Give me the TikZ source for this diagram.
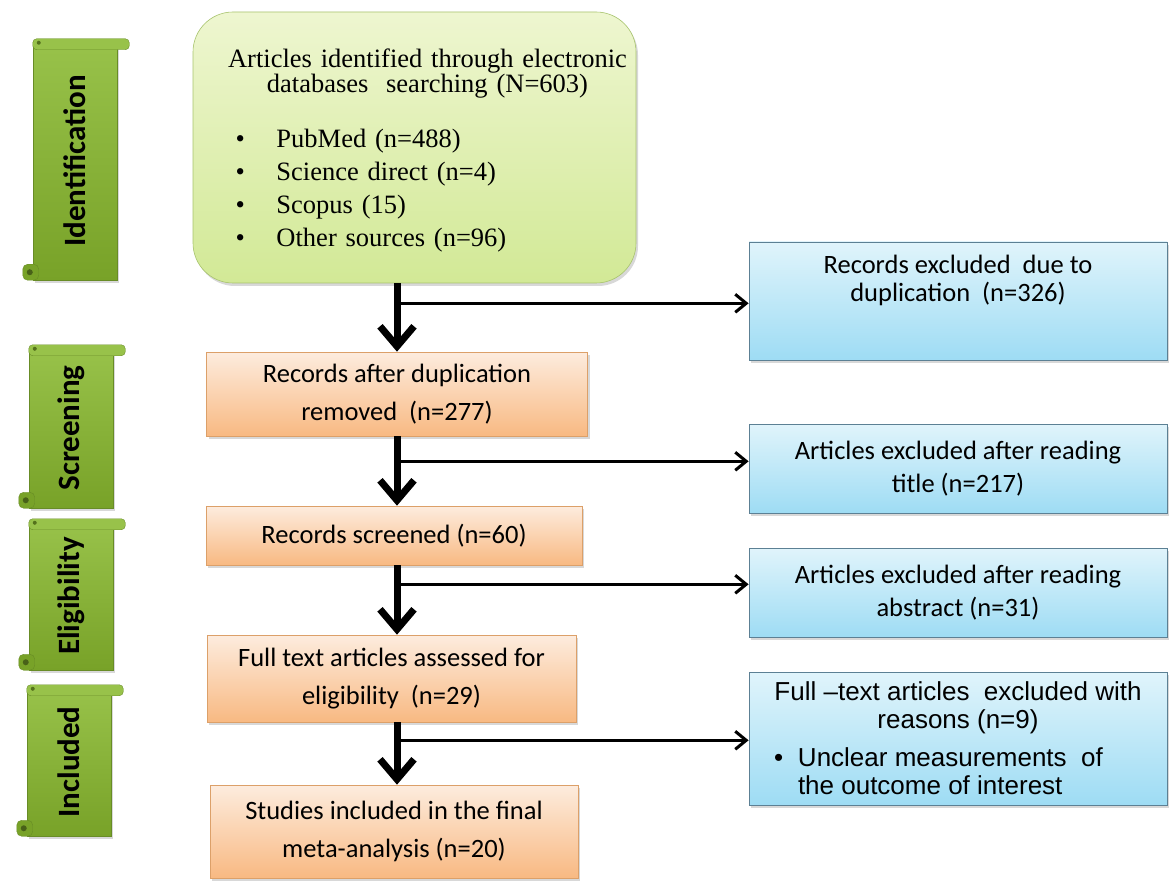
\documentclass[tikz,border=0pt]{standalone}
\usepackage{fontspec}
\setmainfont{Liberation Serif}
\newfontfamily\calibri{Carlito}
\newfontfamily\arialfont{Liberation Sans}
\usepackage{graphicx}
\usepackage{tikz}
\usetikzlibrary{shadows,arrows.meta,positioning,calc}
\definecolor{bantop}{RGB}{152,194,74}
\definecolor{banbot}{RGB}{120,162,40}
\definecolor{banedge}{RGB}{104,140,38}
\definecolor{srctop}{RGB}{238,246,208}
\definecolor{srcbot}{RGB}{210,233,150}
\definecolor{srcedge}{RGB}{168,196,110}
\definecolor{ortop}{RGB}{253,236,222}
\definecolor{orbot}{RGB}{248,185,130}
\definecolor{oredge}{RGB}{220,160,105}
\definecolor{bltop}{RGB}{224,244,251}
\definecolor{blbot}{RGB}{158,220,244}
\definecolor{bledge}{RGB}{92,128,148}
\tikzstyle{softshadow}=[drop shadow={shadow xshift=2pt, shadow yshift=-3pt, opacity=0.3}]
\tikzstyle{phase}=[draw=banedge, line width=0.5pt, top color=bantop, bottom color=banbot,
minimum width=84pt, inner sep=0pt, softshadow,
font=\calibri\bfseries\fontsize{31}{31}\selectfont]
\tikzstyle{sources}=[draw=srcedge, line width=0.6pt, top color=srctop, bottom color=srcbot,
rounded corners=40pt, minimum width=443pt, minimum height=271pt, text width=430pt,
inner xsep=6.5pt, softshadow, font=\fontsize{26.5}{33}\selectfont]
\tikzstyle{etape}=[draw=oredge, line width=0.6pt, top color=ortop, bottom color=orbot,
align=center, inner sep=0pt, softshadow, font=\calibri\fontsize{26.5}{38}\selectfont]
\tikzstyle{excl}=[draw=bledge, line width=0.8pt, top color=bltop, bottom color=blbot,
minimum width=418pt, align=center, inner sep=0pt, softshadow,
font=\calibri\fontsize{26.5}{33}\selectfont]
\tikzstyle{mainline}=[draw, line width=7pt, -{Straight Barb[length=20pt,width=34pt]}]
\tikzstyle{line}=[draw, line width=3pt, -{Straight Barb[length=11pt,width=18pt]}]
\newcommand{\stage}[3]{node (s#1)[phase, minimum height=#2]{\rotatebox{90}{#3}}}
\newcommand{\etape}[4]{node (p#1)[etape, minimum width=#2, minimum height=#3]{#4}}
\newcommand{\excl}[3]{node (q#1)[excl, minimum height=#2]{#3}}
\newcommand{\src}[1]{\noindent\hspace*{36pt}\makebox[41pt][l]{\textbullet}#1\par}
\newcommand{\rolls}[1]{%
  \filldraw[draw=banedge, fill=bantop, rounded corners=4pt] ($(s#1.north west)+(0,3)$) rectangle ($(s#1.north east)+(12,-8)$);
  \fill[banbot!70!black] ($(s#1.north west)+(6,-1)$) circle (2pt);
  \filldraw[draw=banedge, fill=banbot, rounded corners=5pt] ($(s#1.south west)+(-10,16)$) rectangle ($(s#1.south west)+(6,0)$);
  \fill[banbot!60!black] ($(s#1.south west)+(-3,8)$) circle (3pt);
}

\begin{document}
\begin{tikzpicture}[x=1pt,y=1pt]

		\useasboundingbox (0,0) rectangle (1169,-882);
		\fill[white] (0,0) rectangle (1169,-882);

		% Stage banners on the left
		\path (75,-161) \stage{1}{238pt}{Identification};
		\path (71,-428) \stage{2}{160pt}{Screening};
		\path (71,-596) \stage{3}{148pt}{Eligibility};
		\path (69,-762) \stage{4}{148pt}{Included};
		\rolls{1} \rolls{2} \rolls{3} \rolls{4}

		% Draw diagram elements
		\path (414.5,-147.5) node (p0)[sources]{\parbox[c][260pt][t]{430pt}{%
			\vspace*{31pt}
			{\centering\leftskip=26pt plus 1fil\fontsize{26.5}{23.5}\selectfont
			Articles identified through electronic\\ databases\ \ searching (N=603)\par}
			\vspace{22.5pt}
			\src{PubMed (n=488)}
			\src{Science direct (n=4)}
			\src{Scopus (15)}
			\src{Other sources (n=96)}}};
		\path (397,-394) \etape{1}{381pt}{84pt}{Records after duplication\\removed\ \ (n=277)};
		\path (394,-535.5) \etape{2}{376pt}{59pt}{Records screened (n=60)};
		\path (391.5,-678.5) \etape{3}{369pt}{87pt}{Full text articles assessed for\\eligibility\ \ (n=29)};
		\path (394,-831.5) \etape{4}{368pt}{93pt}{Studies included in the final\\meta-analysis (n=20)};

		\path (958,-301) \excl{1}{118pt}{\parbox[c][98pt][t]{410pt}{\vspace*{3pt}\centering
			\fontsize{26.5}{28}\selectfont Records excluded\ \ due to\\duplication\ \ (n=326)\par}};
		\path (958,-468.5) \excl{2}{89pt}{Articles excluded after reading\\title (n=217)};
		\path (958,-592.5) \excl{3}{89pt}{Articles excluded after reading\\abstract (n=31)};
		\path (958,-738.5) \excl{4}{133pt}{\parbox{410pt}{\centering\arialfont\fontsize{26}{28}\selectfont
			Full –text articles\ \ excluded with\\reasons (n=9)\par\vspace{10pt}
			\raggedright\leftskip=45pt\noindent\hspace*{-24pt}\makebox[24pt][l]{\textbullet}Unclear measurements\ \ of\\the outcome of interest\par}};

		% Draw arrows between elements
		\path [mainline] (p0.south -| p1.north) -- (p1.north);
		\path [mainline] (p1.south) -- (p1.south |- p2.north);
		\path [mainline] (p1.south |- p2.south) -- (p1.south |- p3.north);
		\path [mainline] (p1.south |- p3.south) -- (p1.south |- p4.north);

		\path [line] (p0.south -| p1.north) ++(0,-20) coordinate (b1) -- (b1 -| q1.west);
		\path [line] (p1.south) ++(0,-25) coordinate (b2) -- (b2 -| q2.west);
		\path [line] (p1.south |- p2.south) ++(0,-19) coordinate (b3) -- (b3 -| q3.west);
		\path [line] (p1.south |- p3.south) ++(0,-18) coordinate (b4) -- (b4 -| q4.west);
\end{tikzpicture}
\end{document}
